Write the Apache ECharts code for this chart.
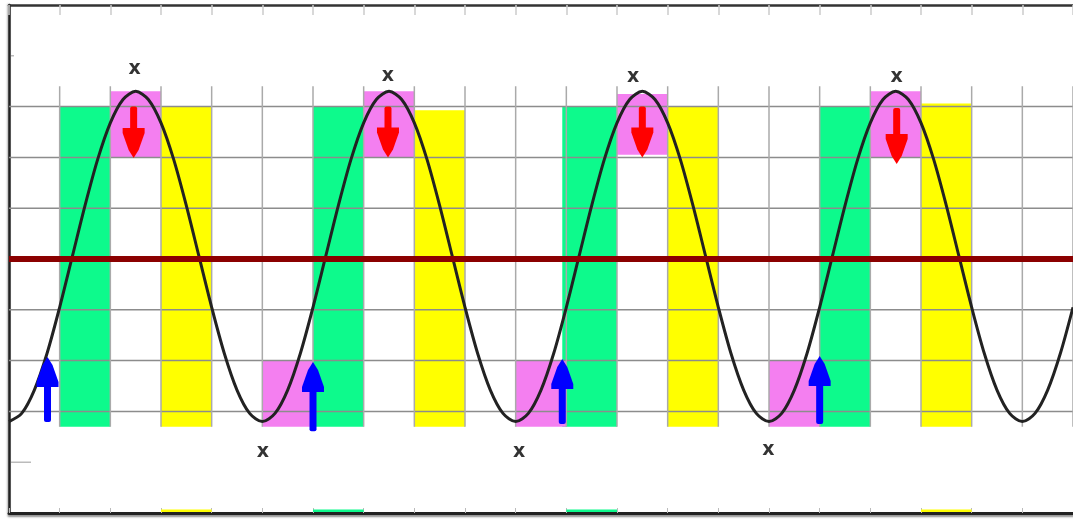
<!DOCTYPE html>
<html><head><meta charset="utf-8">
<script src="https://cdn.jsdelivr.net/npm/echarts@6/dist/echarts.min.js"></script>
<style>html,body{margin:0;padding:0;background:#fff}#c{width:1073px;height:519px}</style>
</head><body><div id="c"></div>
<script>
// Curve read every quarter grid column
const curvePoints = [
  [0,-3.2],[0.25,-3.04],[0.5,-2.58],[0.75,-1.86],[1,-0.95],[1.25,0.05],[1.5,1.05],[1.75,1.96],[2,2.68],[2.25,3.14],
  [2.5,3.3],[2.75,3.14],[3,2.68],[3.25,1.96],[3.5,1.05],[3.75,0.05],[4,-0.95],[4.25,-1.86],[4.5,-2.58],[4.75,-3.04],
  [5,-3.2],[5.25,-3.04],[5.5,-2.58],[5.75,-1.86],[6,-0.95],[6.25,0.05],[6.5,1.05],[6.75,1.96],[7,2.68],[7.25,3.14],
  [7.5,3.3],[7.75,3.14],[8,2.68],[8.25,1.96],[8.5,1.05],[8.75,0.05],[9,-0.95],[9.25,-1.86],[9.5,-2.58],[9.75,-3.04],
  [10,-3.2],[10.25,-3.04],[10.5,-2.58],[10.75,-1.86],[11,-0.95],[11.25,0.05],[11.5,1.05],[11.75,1.96],[12,2.68],[12.25,3.14],
  [12.5,3.3],[12.75,3.14],[13,2.68],[13.25,1.96],[13.5,1.05],[13.75,0.05],[14,-0.95],[14.25,-1.86],[14.5,-2.58],[14.75,-3.04],
  [15,-3.2],[15.25,-3.04],[15.5,-2.58],[15.75,-1.86],[16,-0.95],[16.25,0.05],[16.5,1.05],[16.75,1.96],[17,2.68],[17.25,3.14],
  [17.5,3.3],[17.75,3.14],[18,2.68],[18.25,1.96],[18.5,1.05],[18.75,0.05],[19,-0.95],[19.25,-1.86],[19.5,-2.58],[19.75,-3.04],
  [20,-3.2],[20.25,-3.04],[20.5,-2.58],[20.75,-1.86],[21,-0.95]
];
// Rectangles: [x0, x1, yBottom, yTop]
const greenBars = [[1,2,-3.3,3.0],[6,7,-3.3,3.0],[10.92,12,-3.3,3.0],[16,17,-3.3,3.0]];
const yellowBars = [[3,4,-3.3,3.0],[8,9,-3.3,2.93],[13,14,-3.3,3.0],[18,19,-3.3,3.06]];
const pinkTopBars = [[2,3,2.0,3.3],[7,8,2.0,3.3],[12,13,2.05,3.25],[17,18,2.0,3.3]];
const pinkBottomBars = [[5,6,-3.3,-2.0],[10,11,-3.3,-2.0],[15,16,-3.3,-2.0]];
const greenStrips = [[6,7,-4.98,-4.93],[11,12,-4.98,-4.93]];
const yellowStrips = [[3,4,-4.98,-4.93],[18,19,-4.98,-4.93]];
// Arrows: [x, yStart, yTip]
const blueArrows = [[0.76,-3.21,-1.93],[6.0,-3.39,-2.03],[10.92,-3.25,-1.97],[16.0,-3.25,-1.91]];
const redArrows = [[2.46,3.0,1.99],[7.48,3.0,2.0],[12.5,3.0,2.0],[17.52,2.97,1.87]];
// 'x' marks
const topMarks = [[2.48,3.74],[7.48,3.6],[12.32,3.58],[17.52,3.58]];
const bottomMarks = [[5.01,-3.8],[10.07,-3.8],[14.99,-3.76]];
// Grid lines
const hGridValues = [-3,-2,-1,1,2,3];
const vGridValues = [1,2,3,4,5,6,7,8,9,10,11,12,13,14,15,16,17,18,19,20,21];
const refLine = [[0,0],[21,0]];
const leftTicks = [4,-4];

const X_MIN = 0, X_MAX = 21, Y_MIN = -5, Y_MAX = 5;

function rectSeries(data, color, z) {
  return {
    type: 'custom', data: data, z: z, silent: true, clip: true,
    encode: { x: [0, 1], y: [2, 3] },
    renderItem: function (params, api) {
      const p0 = api.coord([api.value(0), api.value(3)]);
      const p1 = api.coord([api.value(1), api.value(2)]);
      return { type: 'rect', shape: { x: p0[0], y: p0[1], width: p1[0] - p0[0], height: p1[1] - p0[1] },
        style: { fill: color } };
    }
  };
}

const chart = echarts.init(document.getElementById('c'));
chart.setOption({
  animation: false,
  backgroundColor: '#fff',
  grid: { left: 9, right: 0, top: 5, bottom: 6 },
  xAxis: [
    { type: 'value', min: X_MIN, max: X_MAX, interval: 1, position: 'bottom',
      axisLine: { show: true, onZero: false, lineStyle: { color: '#222', width: 3, shadowColor: 'rgba(0,0,0,0.45)', shadowBlur: 2, shadowOffsetY: 2 } },
      axisTick: { show: true, inside: true, length: 5, lineStyle: { color: '#bbb', width: 1 } },
      axisLabel: { show: false }, splitLine: { show: false } },
    { type: 'value', min: X_MIN, max: X_MAX, interval: 1, position: 'top',
      axisLine: { show: true, onZero: false, lineStyle: { color: '#333', width: 2.5 } },
      axisTick: { show: true, inside: true, length: 10, lineStyle: { color: '#ccc', width: 1.5 } },
      axisLabel: { show: false }, splitLine: { show: false } }
  ],
  yAxis: { type: 'value', min: Y_MIN, max: Y_MAX,
    axisLine: { show: true, onZero: false, lineStyle: { color: '#222', width: 2.5, shadowColor: 'rgba(0,0,0,0.35)', shadowBlur: 2, shadowOffsetX: -1 } },
    axisTick: { show: false }, axisLabel: { show: false }, splitLine: { show: false } },
  series: [
    rectSeries(greenBars, '#0dfa8c', 1),
    rectSeries(yellowBars, '#ffff00', 1),
    rectSeries(pinkTopBars, '#f47ff0', 1),
    rectSeries(pinkBottomBars, '#f47ff0', 1),
    rectSeries(greenStrips, '#0dfa8c', 1),
    rectSeries(yellowStrips, '#ffff00', 1),
    { type: 'custom', data: hGridValues, z: 2, silent: true,
      renderItem: function (params, api) {
        const a = api.coord([X_MIN, api.value(0)]);
        const b = api.coord([X_MAX, api.value(0)]);
        return { type: 'line', shape: { x1: a[0], y1: a[1], x2: b[0], y2: b[1] },
          style: { stroke: '#8c8c8c', lineWidth: 1.5 } };
      } },
    { type: 'custom', data: vGridValues, z: 2, silent: true,
      renderItem: function (params, api) {
        const a = api.coord([api.value(0), 3.4]);
        const b = api.coord([api.value(0), -3.3]);
        return { type: 'line', shape: { x1: a[0], y1: a[1], x2: b[0], y2: b[1] },
          style: { stroke: '#aaaaaa', lineWidth: 1.5 } };
      } },
    { type: 'custom', data: leftTicks, z: 2, silent: true,
      renderItem: function (params, api) {
        const a = api.coord([X_MIN, api.value(0)]);
        const len = params.dataIndex === 0 ? 5 : 22;
        return { type: 'line', shape: { x1: a[0] + 2, y1: a[1], x2: a[0] + len, y2: a[1] },
          style: { stroke: '#aaaaaa', lineWidth: 1.2 } };
      } },
    { type: 'line', data: curvePoints, smooth: 0.3, showSymbol: false, symbol: 'none', z: 3,
      lineStyle: { color: '#222', width: 3 } },
    { type: 'line', data: refLine, showSymbol: false, symbol: 'none', z: 4,
      lineStyle: { color: '#8b0000', width: 6 } },
    { type: 'custom', data: blueArrows, z: 5, silent: true,
      renderItem: function (params, api) {
        const b = api.coord([api.value(0), api.value(1)]);
        const t = api.coord([api.value(0), api.value(2)]);
        const cx = b[0], ty = t[1], by = b[1];
        return { type: 'group', children: [
          { type: 'rect', shape: { x: cx - 3.5, y: ty + 26, width: 7, height: by - ty - 26, r: 2 }, style: { fill: '#0000ff' } },
          { type: 'polygon', shape: { points: [[cx, ty], [cx + 5, ty + 8], [cx + 11, ty + 25], [cx + 11, ty + 30], [cx - 11, ty + 30], [cx - 11, ty + 25], [cx - 5, ty + 8]] }, style: { fill: '#0000ff' } }
        ] };
      } },
    { type: 'custom', data: redArrows, z: 5, silent: true,
      renderItem: function (params, api) {
        const s = api.coord([api.value(0), api.value(1)]);
        const t = api.coord([api.value(0), api.value(2)]);
        const cx = s[0], ty = t[1], sy = s[1];
        return { type: 'group', children: [
          { type: 'rect', shape: { x: cx - 3.5, y: sy, width: 7, height: ty - sy - 26, r: 2 }, style: { fill: '#ff0000' } },
          { type: 'polygon', shape: { points: [[cx, ty], [cx + 5, ty - 8], [cx + 11, ty - 25], [cx + 11, ty - 30], [cx - 11, ty - 30], [cx - 11, ty - 25], [cx - 5, ty - 8]] }, style: { fill: '#ff0000' } }
        ] };
      } },
    { type: 'scatter', data: topMarks.concat(bottomMarks), symbolSize: 1, z: 6, silent: true,
      itemStyle: { color: 'rgba(0,0,0,0)' },
      label: { show: true, position: 'inside', formatter: 'x', color: '#000000',
        fontFamily: 'DejaVu Sans, sans-serif', fontWeight: 'bold', fontSize: 19 } }
  ]
});
</script>
</body></html>
